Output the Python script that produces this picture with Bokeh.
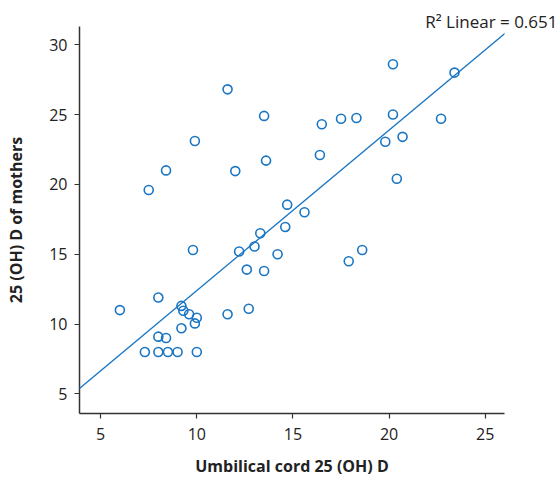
from bokeh.plotting import figure
from bokeh.models import Range1d, FixedTicker, Slope, Title
from bokeh.embed import file_html
from bokeh.resources import INLINE

cord = [6.0, 7.3, 7.5, 8.0, 8.0, 8.0, 8.4, 8.4, 8.5, 9.0, 9.2, 9.2, 9.3, 9.6, 9.8,
        9.9, 9.9, 10.0, 10.0, 11.6, 11.6, 12.0, 12.2, 12.6, 12.7, 13.0, 13.3, 13.5,
        13.5, 13.6, 14.2, 14.6, 14.7, 15.6, 16.4, 16.5, 17.5, 17.9, 18.3, 18.6,
        19.8, 20.2, 20.2, 20.4, 20.7, 22.7, 23.4]
mothers = [11.0, 8.0, 19.6, 11.9, 9.1, 8.0, 21.0, 9.0, 8.0, 8.0, 11.3, 9.7, 10.95, 10.7, 15.3,
           23.1, 10.05, 10.45, 8.0, 26.8, 10.7, 20.95, 15.2, 13.9, 11.1, 15.55, 16.5, 24.9,
           13.8, 21.7, 15.0, 16.95, 18.55, 18.0, 22.1, 24.3, 24.7, 14.5, 24.75, 15.3,
           23.05, 28.6, 25.0, 20.4, 23.4, 24.7, 28.0]
x_ticks = [5, 10, 15, 20, 25]
y_ticks = [5, 10, 15, 20, 25, 30]
fit_slope = 1.149
fit_intercept = 0.91
r2_text = "R\u00b2 Linear = 0.651"

FONT = "Open Sans"
BLUE = "#1a76c2"
GREY = "#333333"

p = figure(width=560, height=484, output_backend="svg", toolbar_location=None,
           x_range=Range1d(3.9, 26.0), y_range=Range1d(3.6, 31.3),
           min_border_left=79, min_border_top=26, min_border_right=56, min_border_bottom=71,
           title=Title(text=r2_text, align="right", offset=-53, standoff=-12,
                       text_font=FONT, text_font_size="17px", text_font_style="normal",
                       text_color="#222222"))
p.outline_line_color = None
p.grid.visible = False
p.background_fill_color = "white"

for ax in (p.xaxis[0], p.yaxis[0]):
    ax.axis_line_color = GREY
    ax.axis_line_width = 1.5
    ax.major_tick_line_color = GREY
    ax.major_tick_line_width = 1.2
    ax.major_tick_out = 5
    ax.major_tick_in = 0
    ax.minor_tick_line_color = None
    ax.major_label_text_font = FONT
    ax.major_label_text_font_size = "16px"
    ax.major_label_text_color = "#222222"
    ax.axis_label_text_font = FONT
    ax.axis_label_text_font_size = "16px"
    ax.axis_label_text_font_style = "bold"
    ax.axis_label_text_color = "#222222"

p.xaxis[0].ticker = FixedTicker(ticks=x_ticks)
p.yaxis[0].ticker = FixedTicker(ticks=y_ticks)
p.xaxis[0].axis_label = "Umbilical cord 25 (OH) D"
p.yaxis[0].axis_label = "25 (OH) D of mothers"
p.xaxis[0].major_label_standoff = 9
p.yaxis[0].major_label_standoff = 7
p.xaxis[0].axis_label_standoff = 12
p.yaxis[0].axis_label_standoff = 19

p.add_layout(Slope(gradient=fit_slope, y_intercept=fit_intercept, line_color=BLUE, line_width=1.3))

p.scatter(cord, mothers, marker="circle", size=9, fill_color=None,
          line_color=BLUE, line_width=1.6)

open("out.html", "w").write(file_html(p, INLINE))
